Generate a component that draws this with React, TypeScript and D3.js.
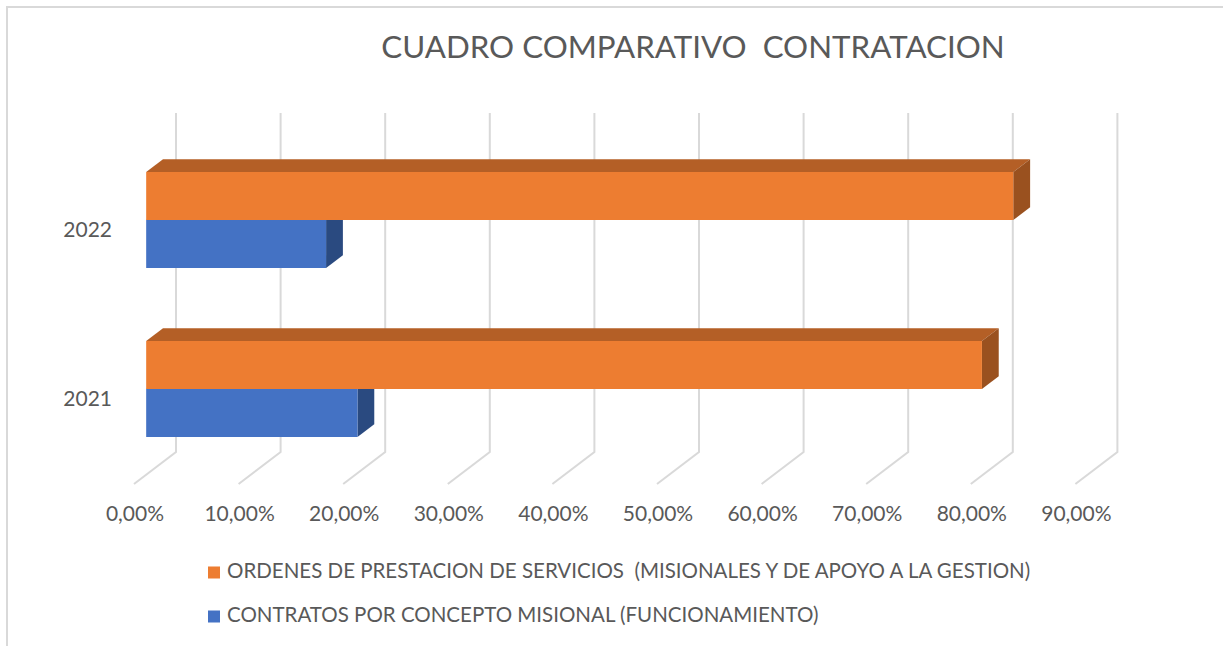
import { formatLocale, scaleBand, scaleLinear } from "d3";

const years = ["2022", "2021"];
const seriesNames = [
  "ORDENES DE PRESTACION DE SERVICIOS  (MISIONALES Y DE APOYO A LA GESTION)",
  "CONTRATOS POR CONCEPTO MISIONAL (FUNCIONAMIENTO)",
];
const ordenes = [0.829, 0.799];
const contratos = [0.172, 0.202];
const tickValues = [0, 0.1, 0.2, 0.3, 0.4, 0.5, 0.6, 0.7, 0.8, 0.9];

const W = 1223;
const H = 646;
const FONT = "Lato, 'Open Sans', sans-serif";
const TEXT = "#595959";
const GRID = "#d9d9d9";

// floor depth: back wall -> front edge
const DX = -42;
const DY = 32;
const BAR_FRONT = 0.71;
const BAR_BACK = 0.31;

const colors = [
  { front: "#ED7D31", top: "#B45F26", side: "#9A511F" },
  { front: "#4472C4", top: "#335796", side: "#2A4A80" },
];

const es = formatLocale({ decimal: ",", thousands: ".", grouping: [3], currency: ["$", ""] });
const pct = es.format(".2%");

export default function App() {
  const xBack = scaleLinear().domain([0, 0.9]).range([176, 1117.4]);
  const wallTop = 113;
  const wallBottom = 452;

  const y = scaleBand<string>()
    .domain(years)
    .range([135.5, 473.5])
    .paddingInner(0.432)
    .paddingOuter(0.216);
  const inner = scaleBand<number>().domain([0, 1]).range([0, y.bandwidth()]);

  const xFront = (v: number) => xBack(v) + DX * BAR_FRONT;
  const ddx = DX * (BAR_BACK - BAR_FRONT); // positive, toward back
  const ddy = DY * (BAR_BACK - BAR_FRONT); // negative, up

  const bar = (v: number, top: number, h: number, c: typeof colors[number], key: string) => {
    const x0 = xFront(0);
    const x1 = xFront(v);
    const y0 = top;
    const y1 = top + h;
    return (
      <g key={key}>
        <polygon
          points={`${x0},${y0} ${x1},${y0} ${x1 + ddx},${y0 + ddy} ${x0 + ddx},${y0 + ddy}`}
          fill={c.top}
        />
        <polygon
          points={`${x1},${y0} ${x1},${y1} ${x1 + ddx},${y1 + ddy} ${x1 + ddx},${y0 + ddy}`}
          fill={c.side}
        />
        <rect x={x0} y={y0} width={x1 - x0} height={h} fill={c.front} />
      </g>
    );
  };

  return (
    <svg
      width={W}
      height={H}
      style={{ position: "absolute", left: 0, top: 0, background: "#fff" }}
      fontFamily={FONT}
    >
      <rect width={W} height={H} fill="#fff" />
      <path d={`M7,${H} V7 H${W}`} fill="none" stroke={GRID} strokeWidth={2} />

      <text x={693} y={50} textAnchor="middle" dominantBaseline="middle" fontSize={31.3} fill={TEXT} style={{ whiteSpace: "pre" }}>
        CUADRO COMPARATIVO  CONTRATACION
      </text>

      {tickValues.map((t) => (
        <path
          key={t}
          d={`M${xBack(t)},${wallTop} V${wallBottom} l${DX},${DY}`}
          fill="none"
          stroke={GRID}
          strokeWidth={2}
        />
      ))}

      {tickValues.map((t) => (
        <text
          key={t}
          x={xBack(t) + DX + 1}
          y={516}
          textAnchor="middle"
          dominantBaseline="middle"
          fontSize={21}
          fill={TEXT}
        >
          {pct(t)}
        </text>
      ))}

      {years.map((yr, i) => {
        const top = y(yr) as number;
        const hb = inner.bandwidth();
        return (
          <g key={yr}>
            {bar(contratos[i], top + (inner(1) as number), hb, colors[1], "c")}
            {bar(ordenes[i], top + (inner(0) as number), hb, colors[0], "o")}
            <text
              x={112}
              y={top + y.bandwidth() / 2 + 12}
              textAnchor="end"
              dominantBaseline="middle"
              fontSize={21}
              fill={TEXT}
            >
              {yr}
            </text>
          </g>
        );
      })}

      {seriesNames.map((name, i) => (
        <g key={name} transform={`translate(208, ${572.5 + i * 44})`}>
          <rect x={0} y={-6} width={12} height={12} fill={colors[i].front} />
          <text x={19} y={0} dominantBaseline="middle" fontSize={20.5} fill={TEXT} style={{ whiteSpace: "pre" }}>
            {name}
          </text>
        </g>
      ))}
    </svg>
  );
}
